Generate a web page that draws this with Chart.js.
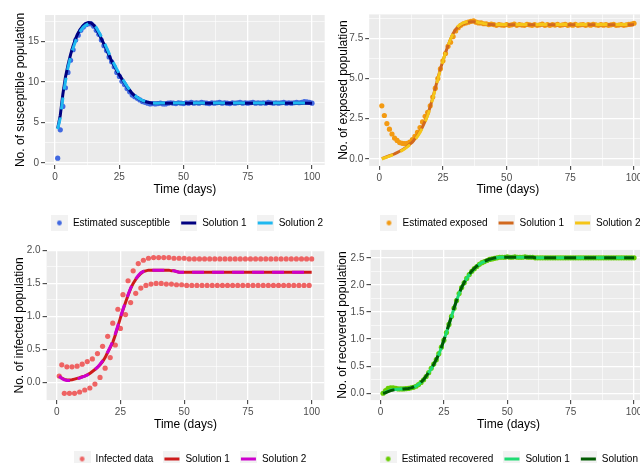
<!DOCTYPE html>
<html>
<head>
<meta charset="utf-8">
<script src="https://cdn.jsdelivr.net/npm/chart.js@4.4.1/dist/chart.umd.min.js"></script>
<style>
  html, body { margin: 0; padding: 0; background: #fff; overflow: hidden; width: 640px; height: 463px; position: relative; }
  canvas { position: absolute; background: #fff; }
</style>
</head>
<body>
<canvas id="c1" width="374" height="238" style="left:0;top:0"></canvas>
<canvas id="c3" width="380" height="243" style="left:0;top:231px"></canvas>
<canvas id="c2" width="369" height="238" style="left:326px;top:0"></canvas>
<canvas id="c4" width="374" height="243" style="left:326px;top:231px"></canvas>
<script>
// time axis (days)
const days = [1,2,3,4,5,6,7,8,9,10,11,12,13,14,15,16,17,18,19,20,
  21,22,23,24,25,26,27,28,29,30,31,32,33,34,35,36,37,38,39,40,
  41,42,43,44,45,46,47,48,49,50,51,52,53,54,55,56,57,58,59,60,
  61,62,63,64,65,66,67,68,69,70,71,72,73,74,75,76,77,78,79,80,
  81,82,83,84,85,86,87,88,89,90,91,92,93,94,95,96,97,98,99,100];

const xMajor = [0, 25, 50, 75, 100];
const xMinor = [12.5, 37.5, 62.5, 87.5];
const xLabels = ['0', '25', '50', '75', '100'];

// susceptible
const susceptibleEst = [0.6,4.1,7.0,9.3,11.2,12.7,14.0,15.2,15.8,16.4,
  16.8,17.1,17.2,17.2,16.9,16.4,15.9,15.2,14.5,13.9,
  13.1,12.5,11.9,11.2,10.7,10.1,9.7,9.2,8.8,8.4,
  8.2,8.0,7.8,7.6,7.5,7.4,7.3,7.35,7.3,7.35,
  7.4,7.3,7.3,7.4,7.45,7.4,7.35,7.45,7.4,7.35,
  7.45,7.4,7.5,7.4,7.45,7.4,7.5,7.45,7.4,7.35,
  7.45,7.4,7.45,7.5,7.4,7.45,7.4,7.35,7.45,7.4,
  7.45,7.5,7.4,7.45,7.4,7.45,7.5,7.4,7.45,7.4,
  7.45,7.4,7.5,7.45,7.4,7.45,7.4,7.45,7.5,7.4,
  7.45,7.4,7.45,7.5,7.45,7.5,7.6,7.55,7.5,7.4];
const susceptibleSol1 = [4.3,5.9,8.5,10.6,12.1,13.4,14.5,15.4,16.1,16.6,
  17.0,17.25,17.35,17.3,17.05,16.6,16.0,15.35,14.7,14.0,
  13.3,12.6,12.0,11.4,10.9,10.4,9.9,9.4,9.0,8.6,
  8.3,8.05,7.85,7.7,7.6,7.5,7.45,7.4,7.38,7.38,
  7.4,7.4,7.4,7.4,7.4,7.4,7.4,7.4,7.4,7.4,
  7.4,7.4,7.4,7.4,7.4,7.4,7.4,7.4,7.4,7.4,
  7.4,7.4,7.4,7.4,7.4,7.4,7.4,7.4,7.4,7.4,
  7.4,7.4,7.4,7.4,7.4,7.4,7.4,7.4,7.4,7.4,
  7.4,7.4,7.4,7.4,7.4,7.4,7.4,7.4,7.4,7.4,
  7.4,7.4,7.4,7.4,7.4,7.4,7.4,7.4,7.4,7.4];
const susceptibleSol2 = [4.2,5.6,8.0,10.1,11.8,13.1,14.2,15.1,15.8,16.4,
  16.8,17.05,17.2,17.25,17.1,16.75,16.2,15.6,14.95,14.25,
  13.55,12.85,12.2,11.6,11.05,10.5,10.0,9.5,9.05,8.65,
  8.35,8.1,7.9,7.75,7.62,7.52,7.46,7.42,7.4,7.4,
  7.42,7.42,7.42,7.42,7.42,7.42,7.42,7.42,7.42,7.42,
  7.42,7.42,7.42,7.42,7.42,7.42,7.42,7.42,7.42,7.42,
  7.42,7.42,7.42,7.42,7.42,7.42,7.42,7.42,7.42,7.42,
  7.42,7.42,7.42,7.42,7.42,7.42,7.42,7.42,7.42,7.42,
  7.42,7.42,7.42,7.42,7.42,7.42,7.42,7.42,7.42,7.42,
  7.42,7.42,7.42,7.42,7.42,7.42,7.42,7.42,7.42,7.42];
const susceptibleYMajor = [0, 5, 10, 15];
const susceptibleYMinor = [2.5, 7.5, 12.5, 17.5];
const susceptibleYLabels = ['0', '5', '10', '15'];

// exposed
const exposedEst = [3.3,2.7,2.2,1.85,1.55,1.3,1.15,1.02,0.97,0.95,
  0.97,1.05,1.2,1.4,1.65,1.95,2.3,2.65,2.9,3.3,
  3.85,4.4,5.0,5.6,6.1,6.55,7.0,7.25,7.6,7.95,
  8.15,8.3,8.4,8.45,8.5,8.55,8.58,8.5,8.45,8.45,
  8.4,8.4,8.35,8.38,8.35,8.3,8.35,8.32,8.3,8.35,
  8.3,8.33,8.38,8.3,8.35,8.32,8.3,8.36,8.33,8.3,
  8.35,8.3,8.33,8.37,8.3,8.34,8.3,8.35,8.32,8.36,
  8.3,8.33,8.36,8.3,8.34,8.31,8.36,8.3,8.33,8.35,
  8.3,8.34,8.31,8.36,8.33,8.3,8.35,8.31,8.34,8.3,
  8.33,8.36,8.3,8.32,8.35,8.3,8.33,8.36,8.38,8.43];
const exposedSol1 = [0.02,0.08,0.14,0.2,0.26,0.32,0.4,0.48,0.56,0.66,
  0.78,0.92,1.05,1.25,1.45,1.7,2.0,2.35,2.75,3.25,
  3.8,4.4,5.0,5.6,6.1,6.6,7.05,7.45,7.8,8.05,
  8.2,8.32,8.4,8.45,8.5,8.52,8.53,8.5,8.47,8.43,
  8.4,8.38,8.36,8.35,8.34,8.33,8.33,8.33,8.33,8.33,
  8.33,8.33,8.33,8.33,8.33,8.33,8.33,8.33,8.33,8.33,
  8.33,8.33,8.33,8.33,8.33,8.33,8.33,8.33,8.33,8.33,
  8.33,8.33,8.33,8.33,8.33,8.33,8.33,8.33,8.33,8.33,
  8.33,8.33,8.33,8.33,8.33,8.33,8.33,8.33,8.33,8.33,
  8.33,8.33,8.33,8.33,8.33,8.33,8.33,8.33,8.33,8.33];
const exposedSol2 = [0.0,0.06,0.12,0.18,0.24,0.3,0.37,0.45,0.53,0.63,
  0.75,0.88,1.02,1.2,1.4,1.65,1.95,2.3,2.7,3.2,
  3.75,4.35,4.95,5.55,6.1,6.6,7.05,7.45,7.8,8.07,
  8.25,8.37,8.45,8.5,8.53,8.55,8.55,8.52,8.48,8.44,
  8.41,8.39,8.37,8.36,8.35,8.35,8.35,8.35,8.35,8.35,
  8.35,8.35,8.35,8.35,8.35,8.35,8.35,8.35,8.35,8.35,
  8.35,8.35,8.35,8.35,8.35,8.35,8.35,8.35,8.35,8.35,
  8.35,8.35,8.35,8.35,8.35,8.35,8.35,8.35,8.35,8.35,
  8.35,8.35,8.35,8.35,8.35,8.35,8.35,8.35,8.35,8.35,
  8.35,8.35,8.35,8.35,8.35,8.35,8.35,8.35,8.35,8.35];
const exposedYMajor = [0, 2.5, 5, 7.5];
const exposedYMinor = [1.25, 3.75, 6.25, 8.75];
const exposedYLabels = ['0.0', '2.5', '5.0', '7.5'];

// infected
const infectedData = [0.1,0.27,-0.16,0.24,-0.16,0.24,-0.16,0.25,-0.14,0.28,
  -0.11,0.32,-0.08,0.36,-0.02,0.44,0.08,0.55,0.22,0.7,
  0.38,0.9,0.57,1.11,0.82,1.33,1.03,1.54,1.21,1.69,
  1.35,1.8,1.43,1.85,1.47,1.88,1.49,1.89,1.5,1.89,
  1.5,1.89,1.49,1.89,1.49,1.88,1.48,1.88,1.48,1.88,
  1.47,1.87,1.47,1.87,1.47,1.87,1.47,1.87,1.47,1.87,
  1.47,1.87,1.47,1.87,1.47,1.87,1.47,1.87,1.47,1.87,
  1.47,1.87,1.47,1.87,1.47,1.87,1.47,1.87,1.47,1.87,
  1.47,1.87,1.47,1.87,1.47,1.87,1.47,1.87,1.47,1.87,
  1.47,1.87,1.47,1.87,1.47,1.87,1.47,1.87,1.47,1.87];
const infectedSol1 = [0.1,0.07,0.05,0.04,0.04,0.045,0.055,0.065,0.075,0.09,
  0.1,0.12,0.14,0.17,0.2,0.23,0.27,0.32,0.38,0.46,
  0.53,0.61,0.72,0.85,0.98,1.1,1.21,1.32,1.42,1.5,
  1.56,1.61,1.65,1.68,1.69,1.7,1.7,1.7,1.7,1.7,
  1.7,1.7,1.7,1.7,1.69,1.69,1.68,1.67,1.67,1.67,
  1.67,1.67,1.67,1.67,1.67,1.67,1.67,1.67,1.67,1.67,
  1.67,1.67,1.67,1.67,1.67,1.67,1.67,1.67,1.67,1.67,
  1.67,1.67,1.67,1.67,1.67,1.67,1.67,1.67,1.67,1.67,
  1.67,1.67,1.67,1.67,1.67,1.67,1.67,1.67,1.67,1.67,
  1.67,1.67,1.67,1.67,1.67,1.67,1.67,1.67,1.67,1.67];
const infectedSol2 = [0.1,0.065,0.045,0.035,0.035,0.04,0.05,0.06,0.07,0.085,
  0.1,0.115,0.135,0.165,0.2,0.235,0.28,0.33,0.39,0.46,
  0.54,0.63,0.74,0.86,0.99,1.11,1.22,1.33,1.43,1.51,
  1.57,1.62,1.66,1.68,1.69,1.7,1.7,1.7,1.7,1.7,
  1.7,1.7,1.7,1.7,1.7,1.69,1.68,1.67,1.67,1.67,
  1.67,1.67,1.67,1.67,1.67,1.67,1.67,1.67,1.67,1.67,
  1.67,1.67,1.67,1.67,1.67,1.67,1.67,1.67,1.67,1.67,
  1.67,1.67,1.67,1.67,1.67,1.67,1.67,1.67,1.67,1.67,
  1.67,1.67,1.67,1.67,1.67,1.67,1.67,1.67,1.67,1.67,
  1.67,1.67,1.67,1.67,1.67,1.67,1.67,1.67,1.67,1.67];
const infectedYMajor = [0, 0.5, 1, 1.5, 2];
const infectedYMinor = [0.25, 0.75, 1.25, 1.75];
const infectedYLabels = ['0.0', '0.5', '1.0', '1.5', '2.0'];

// recovered
const recoveredEst = [0.0,0.05,0.09,0.1,0.1,0.09,0.08,0.08,0.08,0.085,
  0.09,0.1,0.11,0.13,0.16,0.2,0.25,0.31,0.38,0.46,
  0.54,0.62,0.73,0.85,0.98,1.12,1.27,1.42,1.57,1.71,
  1.84,1.95,2.04,2.12,2.19,2.25,2.3,2.34,2.38,2.41,
  2.43,2.45,2.47,2.48,2.49,2.5,2.51,2.51,2.51,2.52,
  2.51,2.51,2.52,2.51,2.51,2.51,2.52,2.51,2.51,2.51,
  2.5,2.5,2.5,2.5,2.5,2.5,2.5,2.5,2.5,2.5,
  2.5,2.5,2.5,2.5,2.5,2.5,2.5,2.5,2.5,2.5,
  2.5,2.5,2.5,2.5,2.5,2.5,2.5,2.5,2.5,2.5,
  2.5,2.5,2.5,2.5,2.5,2.5,2.5,2.5,2.5,2.5];
const recoveredSol1 = [0.0,0.02,0.04,0.06,0.07,0.07,0.075,0.08,0.08,0.085,
  0.09,0.1,0.11,0.13,0.16,0.2,0.25,0.31,0.38,0.45,
  0.53,0.62,0.72,0.84,0.98,1.12,1.27,1.42,1.57,1.71,
  1.84,1.95,2.04,2.12,2.19,2.25,2.3,2.34,2.38,2.41,
  2.43,2.45,2.47,2.48,2.49,2.5,2.51,2.51,2.51,2.51,
  2.51,2.51,2.51,2.51,2.51,2.51,2.51,2.51,2.51,2.51,
  2.5,2.5,2.5,2.5,2.5,2.5,2.5,2.5,2.5,2.5,
  2.5,2.5,2.5,2.5,2.5,2.5,2.5,2.5,2.5,2.5,
  2.5,2.5,2.5,2.5,2.5,2.5,2.5,2.5,2.5,2.5,
  2.5,2.5,2.5,2.5,2.5,2.5,2.5,2.5,2.5,2.5];
const recoveredSol2 = [0.0,0.01,0.03,0.05,0.06,0.065,0.07,0.075,0.08,0.085,
  0.09,0.1,0.115,0.135,0.165,0.205,0.255,0.315,0.385,0.455,
  0.535,0.625,0.725,0.845,0.985,1.125,1.275,1.425,1.575,1.715,
  1.845,1.955,2.045,2.125,2.195,2.255,2.305,2.345,2.385,2.415,
  2.435,2.455,2.475,2.485,2.495,2.505,2.51,2.51,2.51,2.51,
  2.51,2.51,2.51,2.51,2.51,2.51,2.51,2.51,2.51,2.51,
  2.5,2.5,2.5,2.5,2.5,2.5,2.5,2.5,2.5,2.5,
  2.5,2.5,2.5,2.5,2.5,2.5,2.5,2.5,2.5,2.5,
  2.5,2.5,2.5,2.5,2.5,2.5,2.5,2.5,2.5,2.5,
  2.5,2.5,2.5,2.5,2.5,2.5,2.5,2.5,2.5,2.5];
const recoveredYMajor = [0, 0.5, 1, 1.5, 2, 2.5];
const recoveredYMinor = [0.25, 0.75, 1.25, 1.75, 2.25];
const recoveredYLabels = ['0.0', '0.5', '1.0', '1.5', '2.0', '2.5'];

Chart.defaults.font.family = '"Liberation Sans", Arial, sans-serif';

// ggplot-style legend key: grey square with a dot or a line
function keyIcon(color, kind) {
  const c = document.createElement('canvas');
  c.width = 17; c.height = 17;
  const g = c.getContext('2d');
  g.fillStyle = '#F2F2F2';
  g.fillRect(0, 0, 17, 17);
  if (kind === 'point') {
    g.fillStyle = color;
    g.beginPath();
    g.arc(8.5, 8.5, 2.4, 0, Math.PI * 2);
    g.fill();
  } else {
    g.strokeStyle = color;
    g.lineWidth = 3;
    g.beginPath();
    g.moveTo(1, 8.5);
    g.lineTo(16, 8.5);
    g.stroke();
  }
  return c;
}

function xy(values) {
  return values.map((v, i) => ({ x: days[i], y: v }));
}

const has = (list, v) => list.some(t => Math.abs(t - v) < 1e-9);

// grey panel behind the plot
const panelBg = {
  id: 'panelBg',
  beforeDraw(chart) {
    const { ctx, chartArea: a } = chart;
    ctx.save();
    ctx.fillStyle = '#EBEBEB';
    ctx.fillRect(a.left, a.top, a.right - a.left, a.bottom - a.top);
    ctx.restore();
  }
};

function axis(major, minor, labels, range, extra) {
  return Object.assign({
    type: 'linear',
    min: range[0],
    max: range[1],
    bounds: 'data',
    afterBuildTicks: s => {
      s.ticks = major.concat(minor).sort((a, b) => a - b).map(v => ({ value: v }));
    },
    ticks: {
      callback: v => { const k = major.findIndex(t => Math.abs(t - v) < 1e-9); return k >= 0 ? labels[k] : ''; },
      color: '#4D4D4D',
      font: { size: 10 },
      padding: 2,
      autoSkip: false,
      maxRotation: 0
    },
    grid: {
      color: '#FFFFFF',
      lineWidth: c => has(major, c.tick.value) ? 1.3 : 0.6,
      tickColor: c => has(major, c.tick.value) ? '#333333' : 'rgba(0,0,0,0)',
      tickLength: 4,
      tickWidth: 1
    },
    border: { display: false }
  }, extra);
}

function buildPanel(p) {
  new Chart(document.getElementById(p.id), {
    type: 'line',
    data: {
      datasets: [
        { label: p.labels[2], data: xy(p.sol2), borderColor: p.colors[2], borderWidth: 3,
          borderDash: [12, 8], pointRadius: 0, fill: false, yAxisID: 'y' },
        { label: p.labels[1], data: xy(p.sol1), borderColor: p.colors[1], borderWidth: 3,
          pointRadius: 0, fill: false, yAxisID: 'y' },
        { label: p.labels[0], data: xy(p.est), showLine: false, pointRadius: 2.6,
          pointBackgroundColor: p.colors[0], pointBorderWidth: 0, yAxisID: 'y' }
      ]
    },
    options: {
      responsive: false,
      animation: false,
      devicePixelRatio: 1,
      layout: { padding: { top: p.top, left: 0, right: 0, bottom: 0 } },
      scales: {
        x: axis(xMajor, xMinor, xLabels, [-3.95, 104.95], {
          title: { display: true, text: 'Time (days)', color: '#000', font: { size: 12 },
                   padding: { top: 0, bottom: p.xTitlePad } },
          afterFit: s => { s.height = p.xHeight; }
        }),
        y: axis(p.yMajor, p.yMinor, p.yLabels, p.yRange, {
          title: { display: true, text: p.yTitle, color: '#000', font: { size: 12 },
                   padding: { top: p.yTitlePad, bottom: 0 } },
          afterFit: s => { s.width = p.yWidth; }
        }),
        yR: {
          position: 'right',
          grid: { display: false, drawTicks: false },
          border: { display: false },
          ticks: { display: false },
          afterFit: s => { s.width = p.rightGap; }
        }
      },
      plugins: {
        tooltip: { enabled: false },
        legend: {
          position: 'bottom',
          labels: {
            usePointStyle: true,
            pointStyleWidth: 17,
            padding: 10,
            color: '#1A1A1A',
            font: { size: 10 },
            generateLabels: () => [
              { text: p.labels[0], pointStyle: keyIcon(p.colors[0], 'point'), datasetIndex: 2, lineWidth: 0 },
              { text: p.labels[1], pointStyle: keyIcon(p.colors[1], 'line'), datasetIndex: 1, lineWidth: 0 },
              { text: p.labels[2], pointStyle: keyIcon(p.colors[2], 'line'), datasetIndex: 0, lineWidth: 0 }
            ]
          }
        }
      }
    },
    plugins: [panelBg]
  });
}

buildPanel({
  id: 'c1', est: susceptibleEst, sol1: susceptibleSol1, sol2: susceptibleSol2,
  labels: ['Estimated susceptible', 'Solution 1', 'Solution 2'],
  colors: ['#4169E1', '#000080', '#1EB8F0'],
  yTitle: 'No. of susceptible population',
  yMajor: susceptibleYMajor, yMinor: susceptibleYMinor, yLabels: susceptibleYLabels,
  yRange: [-0.24, 18.29],
  top: 15, xHeight: 43, yWidth: 45, rightGap: 49.3, yTitlePad: 13.3, xTitlePad: 11.5
});

buildPanel({
  id: 'c2', est: exposedEst, sol1: exposedSol1, sol2: exposedSol2,
  labels: ['Estimated exposed', 'Solution 1', 'Solution 2'],
  colors: ['#F39A12', '#D2691E', '#F5C518'],
  yTitle: 'No. of exposed population',
  yMajor: exposedYMajor, yMinor: exposedYMinor, yLabels: exposedYLabels,
  yRange: [-0.43, 8.98],
  top: 14.4, xHeight: 42.1, yWidth: 43.2, rightGap: 48.4, yTitlePad: 10.1, xTitlePad: 11.5
});

buildPanel({
  id: 'c3', est: infectedData, sol1: infectedSol1, sol2: infectedSol2,
  labels: ['Infected data', 'Solution 1', 'Solution 2'],
  colors: ['#EE6363', '#CD1A1A', '#CD00CD'],
  yTitle: 'No. of infected population',
  yMajor: infectedYMajor, yMinor: infectedYMinor, yLabels: infectedYLabels,
  yRange: [-0.2625, 1.9925],
  top: 19.8, xHeight: 43.9, yWidth: 46.6, rightGap: 55.7, yTitlePad: 12.8, xTitlePad: 12.5
});

buildPanel({
  id: 'c4', est: recoveredEst, sol1: recoveredSol1, sol2: recoveredSol2,
  labels: ['Estimated recovered', 'Solution 1', 'Solution 2'],
  colors: ['#66CD00', '#1EDB72', '#005A00'],
  yTitle: 'No. of recovered population',
  yMajor: recoveredYMajor, yMinor: recoveredYMinor, yLabels: recoveredYLabels,
  yRange: [-0.126, 2.646],
  top: 18.9, xHeight: 43.9, yWidth: 44.5, rightGap: 53.4, yTitlePad: 9.8, xTitlePad: 12.5
});
</script>
</body>
</html>
